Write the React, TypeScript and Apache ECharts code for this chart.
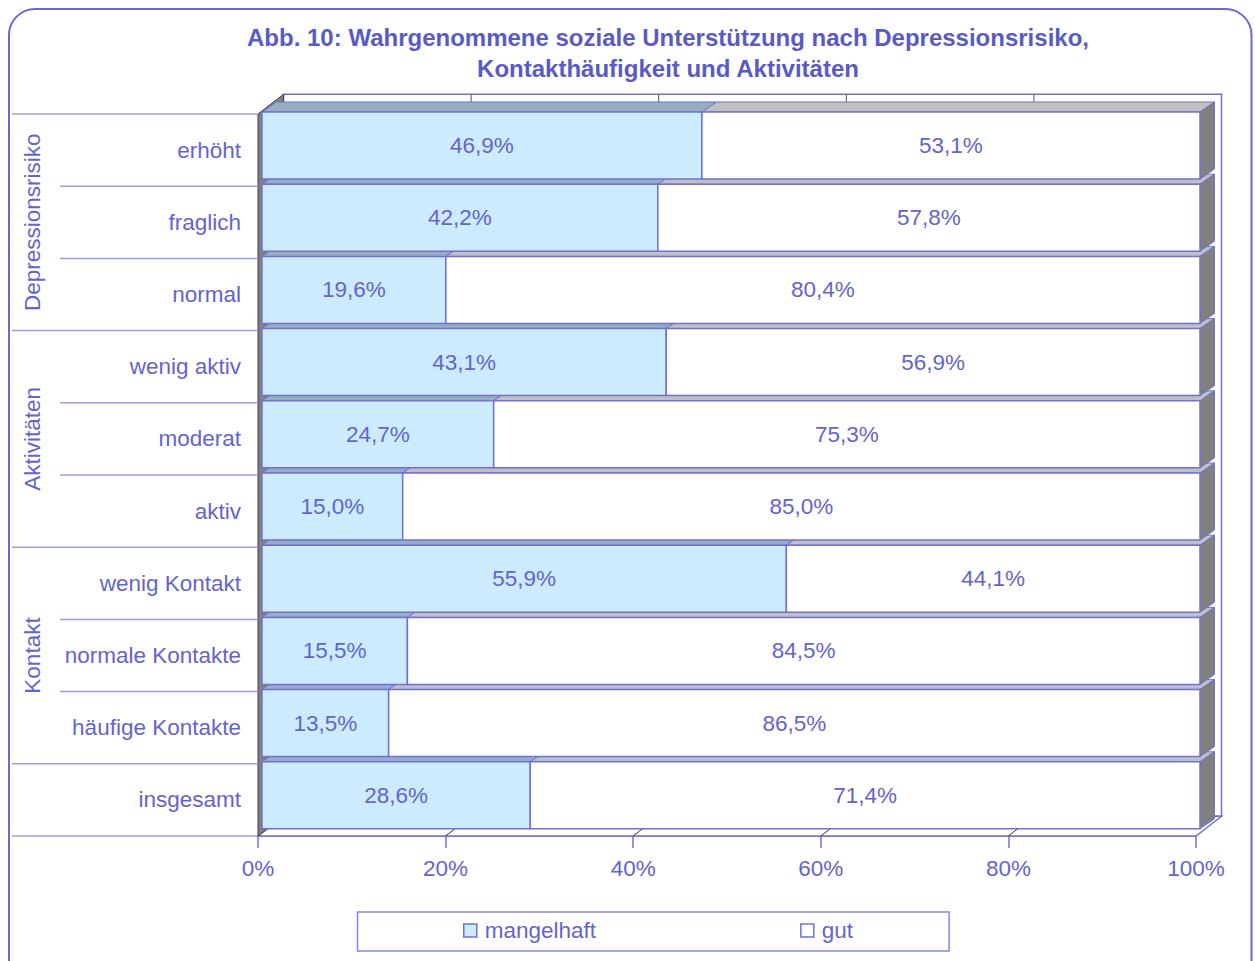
import React, { useEffect, useRef } from 'react';
import * as echarts from 'echarts';

const categories = ['erhöht', 'fraglich', 'normal', 'wenig aktiv', 'moderat', 'aktiv', 'wenig Kontakt', 'normale Kontakte', 'häufige Kontakte', 'insgesamt'];
const mangelhaft = [46.9, 42.2, 19.6, 43.1, 24.7, 15.0, 55.9, 15.5, 13.5, 28.6];
const gut = [53.1, 57.8, 80.4, 56.9, 75.3, 85.0, 44.1, 84.5, 86.5, 71.4];
const groupNames = ['Depressionsrisiko', 'Aktivitäten', 'Kontakt'];
const groupStart = [0, 3, 6];
const groupEnd = [2, 5, 8];
const xTicks = [0, 20, 40, 60, 80, 100];
const seriesNames = ['mangelhaft', 'gut'];
const titleText = 'Abb. 10: Wahrgenommene soziale Unterstützung nach Depressionsrisiko,\nKontakthäufigkeit und Aktivitäten';

const FONT = '"Liberation Sans", Arial, sans-serif';
const TXT = '#6464CC';
const TITLE = '#5A5AC6';
const LINE = '#7070D6';
const CATLINE = '#9C9CE2';
const FRONT = ['#CCEBFF', '#FFFFFF'];
const TOPC = ['#96AFBF', '#C0C0C0'];
const SIDE = '#808080';
const FS = 22.5;
// 3D geometry (style)
const WDX = 25.5, WDY = -19.7; // wall depth
const BDX = 14.5, BDY = -10; // bar depth
const OFFX = 4, OFFY = -4.6; // bar front offset from wall front
const BAR_RATIO = 0.928;

const fmt = (v: number) => v.toFixed(1).replace('.', ',') + '%';

export default function App() {
  const ref = useRef<HTMLDivElement>(null);
  useEffect(() => {
    if (!ref.current) return;
    const chart = echarts.init(ref.current, null, { renderer: 'svg' });
    const N = categories.length;

    const renderFrame = (params: any, api: any) => {
      const band = api.size([0, 1])[1];
      const top = api.coord([0, 0])[1] - band / 2;
      const bottom = api.coord([0, N - 1])[1] + band / 2;
      const x0 = api.coord([0, 0])[0];
      const x100 = api.coord([100, 0])[0];
      const children: any[] = [];
      children.push({
        type: 'rect',
        shape: { x: x0 + WDX, y: top + WDY, width: x100 - x0, height: bottom - top },
        style: { fill: '#FFFFFF', stroke: LINE, lineWidth: 1.5 },
        z2: 1,
      });
      xTicks.slice(1, -1).forEach((t) => {
        const x = api.coord([t, 0])[0];
        children.push({
          type: 'line',
          shape: { x1: x + WDX, y1: top + WDY, x2: x + WDX, y2: bottom + WDY },
          style: { stroke: '#555555', lineWidth: 1 },
          z2: 2,
        });
      });
      children.push({
        type: 'polygon',
        shape: { points: [[x0, bottom], [x100, bottom], [x100 + WDX, bottom + WDY], [x0 + WDX, bottom + WDY]] },
        style: { fill: '#FFFFFF', stroke: LINE, lineWidth: 1.5 },
        z2: 3,
      });
      xTicks.slice(1, -1).forEach((t) => {
        const x = api.coord([t, 0])[0];
        children.push({
          type: 'line',
          shape: { x1: x, y1: bottom, x2: x + WDX, y2: bottom + WDY },
          style: { stroke: '#333333', lineWidth: 1 },
          z2: 4,
        });
      });
      children.push({
        type: 'polygon',
        shape: { points: [[x0, top], [x0 + WDX, top + WDY], [x0 + WDX, bottom + WDY], [x0, bottom]] },
        style: { fill: SIDE, stroke: '#404040', lineWidth: 1 },
        z2: 5,
      });
      const majors = new Set<number>([0, N, ...groupStart, ...groupEnd.map((e) => e + 1)]);
      for (let k = 0; k <= N; k++) {
        const y = top + k * band;
        children.push({
          type: 'line',
          shape: { x1: majors.has(k) ? 12 : 60, y1: y, x2: x0 - 1, y2: y },
          style: { stroke: CATLINE, lineWidth: 1.5 },
          z2: 6,
        });
      }
      groupNames.forEach((g, i) => {
        const yc = top + ((groupStart[i] + groupEnd[i] + 1) / 2) * band;
        children.push({
          type: 'text',
          x: 32,
          y: yc,
          rotation: Math.PI / 2,
          style: { text: g, fill: TXT, fontSize: FS, fontFamily: FONT, align: 'center', verticalAlign: 'middle' },
          z2: 7,
        });
      });
      return { type: 'group', children };
    };

    const makeRender = (sIdx: number) => (params: any, api: any) => {
      const yIdx = api.value(0);
      const s = api.value(1);
      const e = api.value(2);
      const v = api.value(3);
      const band = api.size([0, 1])[1];
      const bh = band * BAR_RATIO;
      const p0 = api.coord([s, yIdx]);
      const p1 = api.coord([e, yIdx]);
      const fx0 = p0[0] + OFFX;
      const fx1 = p1[0] + OFFX;
      const cy = p0[1] + OFFY;
      const y0 = cy - bh / 2;
      const y1 = cy + bh / 2;
      const base = 100 + (N - yIdx) * 10;
      const children: any[] = [];
      children.push({
        type: 'polygon',
        shape: { points: [[fx0, y0], [fx1, y0], [fx1 + BDX, y0 + BDY], [fx0 + BDX, y0 + BDY]] },
        style: { fill: TOPC[sIdx], stroke: LINE, lineWidth: 1 },
        z2: base + 1,
      });
      if (sIdx === 1) {
        children.push({
          type: 'polygon',
          shape: { points: [[fx1, y0], [fx1 + BDX, y0 + BDY], [fx1 + BDX, y1 + BDY], [fx1, y1]] },
          style: { fill: SIDE, stroke: LINE, lineWidth: 1 },
          z2: base + 2,
        });
      }
      children.push({
        type: 'rect',
        shape: { x: fx0, y: y0, width: fx1 - fx0, height: y1 - y0 },
        style: { fill: FRONT[sIdx], stroke: LINE, lineWidth: 1.5 },
        z2: base + 3,
      });
      children.push({
        type: 'text',
        x: (fx0 + fx1) / 2,
        y: cy,
        style: { text: fmt(v), fill: TXT, fontSize: FS, fontFamily: FONT, align: 'center', verticalAlign: 'middle' },
        z2: base + 4,
      });
      return { type: 'group', children };
    };

    const dataM = categories.map((_, i) => [i, 0, mangelhaft[i], mangelhaft[i]]);
    const dataG = categories.map((_, i) => [i, mangelhaft[i], mangelhaft[i] + gut[i], gut[i]]);

    chart.setOption({
      animation: false,
      backgroundColor: '#FFFFFF',
      title: {
        text: titleText,
        left: 663,
        top: 17,
        textAlign: 'center',
        textStyle: { fontSize: 24, fontWeight: 'bold', color: TITLE, fontFamily: FONT, lineHeight: 31 },
      },
      legend: {
        left: 357.5,
        top: 912,
        orient: 'horizontal',
        padding: [7, 96, 9, 105.5],
        itemGap: 204,
        itemWidth: 13,
        itemHeight: 13,
        borderColor: '#8888DA',
        borderWidth: 1.5,
        selectedMode: false,
        textStyle: { fontSize: FS, color: TXT, fontFamily: FONT, padding: [0, 0, 0, 3] },
        data: [
          { name: seriesNames[0], icon: 'rect', itemStyle: { color: FRONT[0], borderColor: LINE, borderWidth: 1.5 } },
          { name: seriesNames[1], icon: 'rect', itemStyle: { color: FRONT[1], borderColor: LINE, borderWidth: 1.5 } },
        ],
      },
      graphic: [
        {
          type: 'rect',
          shape: { x: 9, y: 9, width: 1242.5, height: 1000, r: 26 },
          style: { fill: 'none', stroke: '#6A6AD2', lineWidth: 2 },
          silent: true,
          z: 0,
        },
      ],
      grid: { left: 258, right: 59, top: 114, bottom: 125, containLabel: false },
      xAxis: {
        type: 'value',
        min: 0,
        max: 100,
        interval: 20,
        axisLine: { show: true, lineStyle: { color: LINE, width: 1.5 } },
        axisTick: { show: true, length: 12, lineStyle: { color: LINE, width: 1.5 } },
        splitLine: { show: false },
        axisLabel: { formatter: '{value}%', fontSize: FS, color: TXT, fontFamily: FONT, margin: 21 },
      },
      yAxis: {
        type: 'category',
        data: categories,
        inverse: true,
        axisLine: { show: false },
        axisTick: { show: false },
        axisLabel: { fontSize: FS, color: TXT, fontFamily: FONT, margin: 17 },
      },
      series: [
        {
          type: 'custom',
          name: '__frame',
          silent: true,
          z: 1,
          renderItem: renderFrame,
          data: [[0, 0]],
          encode: { x: 0, y: 1 },
        },
        {
          type: 'custom',
          name: seriesNames[0],
          z: 2,
          itemStyle: { color: FRONT[0] },
          renderItem: makeRender(0),
          data: dataM,
          encode: { x: [1, 2], y: 0 },
        },
        {
          type: 'custom',
          name: seriesNames[1],
          z: 2,
          itemStyle: { color: FRONT[1] },
          renderItem: makeRender(1),
          data: dataG,
          encode: { x: [1, 2], y: 0 },
        },
      ],
    });
    return () => chart.dispose();
  }, []);
  return <div ref={ref} style={{ position: 'absolute', left: 0, top: 0, width: 1255, height: 961 }} />;
}
